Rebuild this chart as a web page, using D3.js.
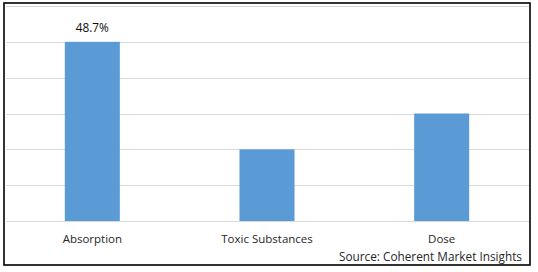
<!DOCTYPE html>
<html>
<head>
<meta charset="utf-8">
<script src="https://cdn.jsdelivr.net/npm/d3@7"></script>
<style>
  html, body { margin: 0; padding: 0; background: #fff; }
  svg { display: block; }
  text { font-family: "Open Sans", "Noto Sans", sans-serif; }
</style>
</head>
<body>
<svg id="chart" width="538" height="272"></svg>
<script>
const categories = ["Absorption", "Toxic Substances", "Dose"];
const values = [48.7, 19.48, 29.22];
const dataLabels = ["48.7%", "", ""];
const gridTicks = [0, 9.74, 19.48, 29.22, 38.96, 48.7, 58.44];
const sourceText = "Source: Coherent Market Insights";

const svg = d3.select("#chart");
const plot = { left: 5, right: 529, top: 6, bottom: 221 };

// outer border
svg.append("rect")
  .attr("x", 4).attr("y", 3)
  .attr("width", 526).attr("height", 262)
  .attr("fill", "#fff")
  .attr("stroke", "#000")
  .attr("stroke-width", 1.6);

const x = d3.scaleBand()
  .domain(categories)
  .range([plot.left, plot.right])
  .paddingInner(0.685)
  .paddingOuter(0.3425);

const y = d3.scaleLinear()
  .domain([0, gridTicks[gridTicks.length - 1]])
  .range([plot.bottom, plot.top]);

// gridlines
svg.append("g")
  .selectAll("line")
  .data(gridTicks)
  .join("line")
  .attr("x1", plot.left + 1)
  .attr("x2", plot.right)
  .attr("y1", d => Math.round(y(d)) + 0.5)
  .attr("y2", d => Math.round(y(d)) + 0.5)
  .attr("stroke", "#d9d9d9")
  .attr("stroke-width", 1);

// bars
const data = categories.map((c, i) => ({ c, v: values[i], label: dataLabels[i] }));
svg.append("g")
  .selectAll("rect")
  .data(data)
  .join("rect")
  .attr("x", d => x(d.c))
  .attr("width", x.bandwidth())
  .attr("y", d => y(d.v))
  .attr("height", d => y(0) - y(d.v))
  .attr("fill", "#5b9bd5");

// data labels
svg.append("g")
  .selectAll("text")
  .data(data.filter(d => d.label))
  .join("text")
  .attr("x", d => x(d.c) + x.bandwidth() / 2)
  .attr("y", d => y(d.v) - 9.5)
  .attr("text-anchor", "middle")
  .attr("font-size", 11.8)
  .attr("fill", "#0d0d0d")
  .text(d => d.label);

// x axis labels
const xAxis = d3.axisBottom(x).tickSize(0).tickPadding(0);
const gx = svg.append("g")
  .attr("transform", `translate(0,${plot.bottom})`)
  .call(xAxis);
gx.select(".domain").remove();
gx.selectAll("text")
  .attr("dy", null)
  .attr("y", 22)
  .attr("font-size", 11.5)
  .attr("font-family", "Open Sans, Noto Sans, sans-serif")
  .attr("fill", "#262626");

// source
svg.append("text")
  .attr("x", 522)
  .attr("y", 261)
  .attr("text-anchor", "end")
  .attr("font-size", 11.8)
  .attr("fill", "#262626")
  .text(sourceText);
</script>
</body>
</html>
